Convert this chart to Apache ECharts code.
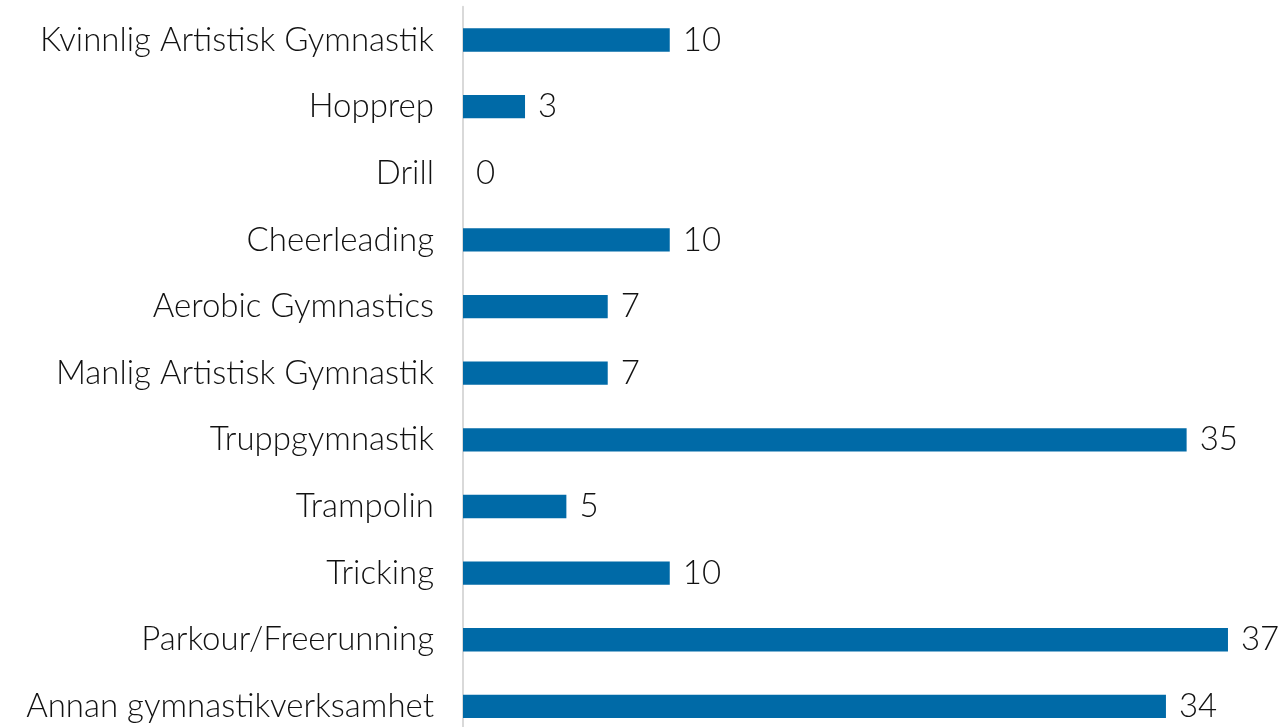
<!DOCTYPE html>
<html>
<head>
<meta charset="utf-8">
<script src="https://cdn.jsdelivr.net/npm/echarts@6/dist/echarts.min.js"></script>
<style>
  html, body { margin: 0; padding: 0; background: #ffffff; }
  #chart { width: 1286px; height: 727px; }
</style>
</head>
<body>
<div id="chart"></div>
<script>
// Categories listed bottom-to-top (ECharts category y-axis starts at the bottom)
const categories = [
  'Annan gymnastikverksamhet',
  'Parkour/Freerunning',
  'Tricking',
  'Trampolin',
  'Truppgymnastik',
  'Manlig Artistisk Gymnastik',
  'Aerobic Gymnastics',
  'Cheerleading',
  'Drill',
  'Hopprep',
  'Kvinnlig Artistisk Gymnastik'
];
const values = [34, 37, 10, 5, 35, 7, 7, 10, 0, 3, 10];

const textStyle = {
  fontFamily: 'Lato',
  fontWeight: 300,
  fontSize: 33,
  color: '#111111'
};

const chart = echarts.init(document.getElementById('chart'));
chart.setOption({
  animation: false,
  grid: {
    left: 463, width: 827, top: 6.7, height: 733,
    containLabel: false,
    outerBoundsMode: 'none'
  },
  xAxis: {
    type: 'value',
    min: 0,
    max: 40,
    show: false
  },
  yAxis: {
    type: 'category',
    data: categories,
    axisLine: { show: true, lineStyle: { color: '#d9d9d9', width: 2 } },
    axisTick: { show: false },
    axisLabel: Object.assign({ margin: 29 }, textStyle)
  },
  series: [{
    type: 'bar',
    data: values,
    barWidth: '35%',
    itemStyle: { color: '#006aa7' },
    label: Object.assign({ show: true, position: 'right', distance: 13 }, textStyle)
  }]
});
</script>
</body>
</html>
